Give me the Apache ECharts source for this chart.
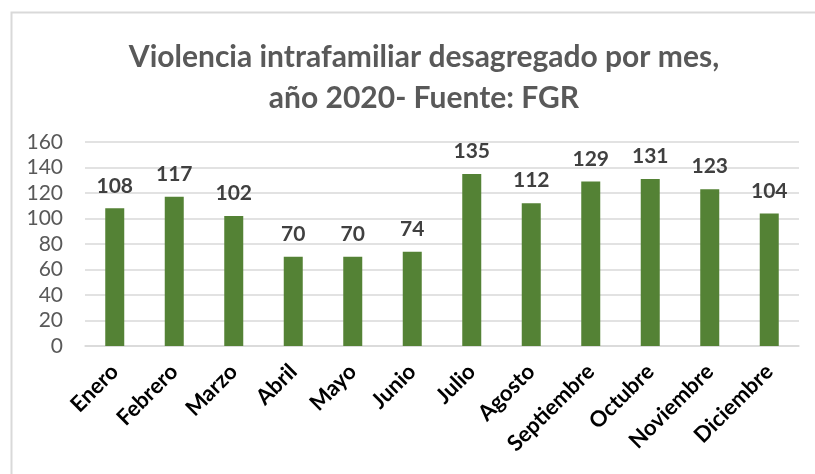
<!DOCTYPE html>
<html>
<head>
<meta charset="utf-8">
<script src="https://cdn.jsdelivr.net/npm/echarts@6/dist/echarts.min.js"></script>
<style>
  html, body { margin: 0; padding: 0; background: #fff; }
  #chart { width: 815px; height: 474px; }
</style>
</head>
<body>
<div id="chart"></div>
<script>
const months = ['Enero', 'Febrero', 'Marzo', 'Abril', 'Mayo', 'Junio', 'Julio',
    'Agosto', 'Septiembre', 'Octubre', 'Noviembre', 'Diciembre'];
const cases = [108, 117, 102, 70, 70, 74, 135, 112, 129, 131, 123, 104];
const titleLines = ['Violencia intrafamiliar desagregado por mes,', 'año 2020- Fuente: FGR'];

const chart = echarts.init(document.getElementById('chart'));
chart.setOption({
    backgroundColor: '#fff',
    animation: false,
    textStyle: { fontFamily: 'Lato' },
    graphic: [{
        type: 'rect',
        left: 9, top: 10,
        shape: { width: 900, height: 600 },
        style: { fill: 'none', stroke: '#d9d9d9', lineWidth: 2 },
        silent: true
    }],
    title: {
        text: titleLines.join('\n'),
        left: 419,
        textAlign: 'center',
        top: 32,
        textStyle: {
            color: '#595959',
            fontSize: 30,
            fontWeight: 'bold',
            lineHeight: 41,
            fontFamily: 'Lato'
        }
    },
    grid: {
        left: 85,
        right: 16,
        top: 142,
        bottom: 128
    },
    xAxis: {
        type: 'category',
        data: months,
        axisLine: { lineStyle: { color: '#d9d9d9', width: 1.5 } },
        axisTick: { show: false },
        axisLabel: {
            rotate: 45,
            interval: 0,
            color: '#000',
            fontSize: 22,
            fontWeight: 'bold',
            margin: 22
        }
    },
    yAxis: {
        type: 'value',
        min: 0,
        max: 160,
        interval: 20,
        axisLine: { show: false },
        axisTick: { show: false },
        axisLabel: {
            color: '#595959',
            fontSize: 21,
            margin: 22
        },
        splitLine: {
            lineStyle: { color: '#d9d9d9', width: 1.5 }
        }
    },
    series: [{
        type: 'bar',
        data: cases,
        barWidth: 19,
        itemStyle: { color: '#548235' },
        label: {
            show: true,
            position: 'top',
            distance: 12,
            color: '#404040',
            fontSize: 21,
            fontWeight: 'bold'
        }
    }]
});
</script>
</body>
</html>
